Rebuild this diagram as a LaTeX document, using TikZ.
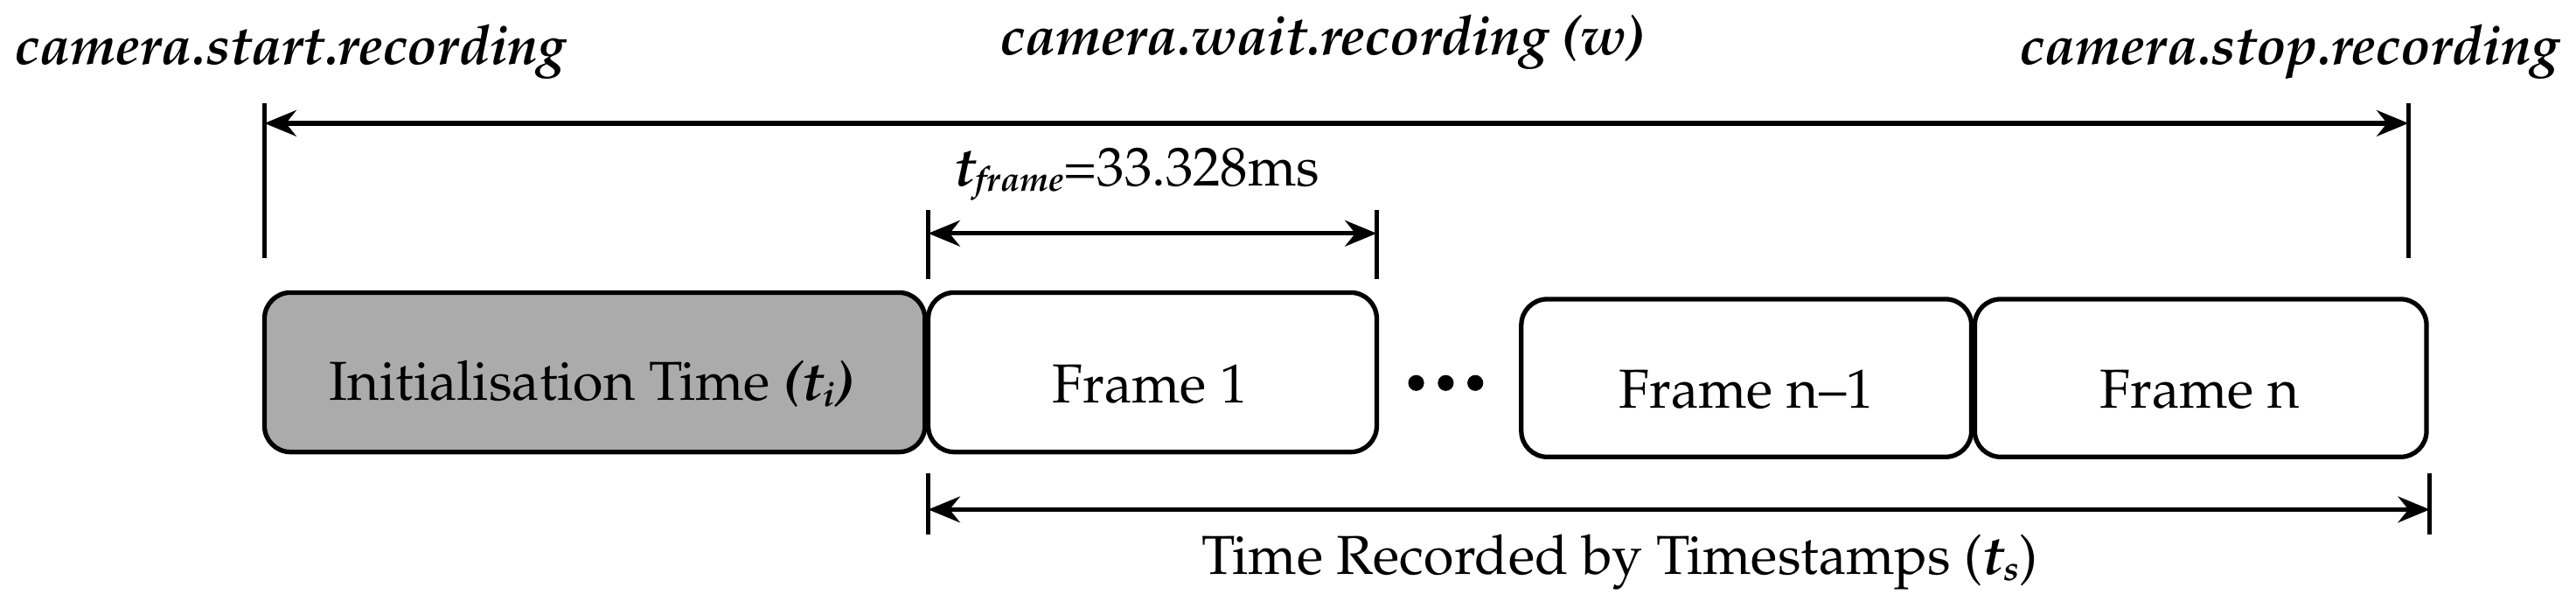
\documentclass[tikz,border=0pt]{standalone}
\usepackage[T1]{fontenc}
\usepackage{mathpazo}
\usetikzlibrary{arrows.meta}
\newcommand{\mysub}[1]{\raisebox{-2pt}{\fontsize{12}{14}\selectfont #1}}
\begin{document}
\begin{tikzpicture}[x=0.02cm,y=-0.02cm,
  box/.style={draw,line width=1.6pt,rounded corners=9pt,inner sep=0pt},
  dim/.style={line width=1.6pt,{Stealth[length=11pt,width=9pt]}-{Stealth[length=11pt,width=9pt]}},
  tick/.style={line width=1.6pt},
  dot/.style={circle,fill,inner sep=0pt,minimum size=5.5pt},
  lab/.style={font=\fontsize{19}{22}\selectfont\bfseries\itshape,inner sep=0pt},
  txt/.style={font=\fontsize{19}{22}\selectfont,inner sep=0pt}]
\useasboundingbox (0,0) rectangle (1568,374);
% boxes
\draw[box,fill=black!33] (161,178) rectangle (563,275);
\node[txt] (tinit) at (360,234) {Initialisation Time \textbf{\textit{(t\mysub{i})}}};
\draw[box] (565,178) rectangle (838,275);
\node[txt] (f1) at (700,234) {Frame 1};
\node[dot] (d1) at (862,233) {};
\node[dot] (d2) at (880,233) {};
\node[dot] (d3) at (898,233) {};
\draw[box] (926,182) rectangle (1200,278);
\node[txt] (fn1) at (1063,237) {Frame n--1};
\draw[box] (1202,182) rectangle (1477,278);
\node[txt] (fn) at (1339,237) {Frame n};
% top
\coordinate (L1) at (161,63); \coordinate (L2) at (161,157);
\coordinate (R1) at (1466,63); \coordinate (R2) at (1466,157);
\draw[tick] (L1)--(L2); \draw[tick] (R1)--(R2);
\coordinate (TA) at (161,75); \coordinate (TB) at (1466,75);
\draw[dim] (TA)--(TB);
\node[lab,anchor=west] (s) at (9,32) {camera.start.recording};
\node[lab] (w) at (805,26) {camera.wait.recording (w)};
\node[lab,anchor=east] (e) at (1558,32) {camera.stop.recording};
% tframe
\coordinate (F1a) at (565,128); \coordinate (F1b) at (565,170);
\coordinate (F2a) at (838,128); \coordinate (F2b) at (838,170);
\draw[tick] (F1a)--(F1b); \draw[tick] (F2a)--(F2b);
\coordinate (FA) at (565,142); \coordinate (FB) at (838,142);
\draw[dim] (FA)--(FB);
\node[txt] (tf) at (692,106) {\textbf{\textit{t\mysub{frame}}}=33.328ms};
% bottom
\coordinate (B1a) at (565,288); \coordinate (B1b) at (565,325);
\coordinate (B2a) at (1479,288); \coordinate (B2b) at (1479,325);
\draw[tick] (B1a)--(B1b); \draw[tick] (B2a)--(B2b);
\coordinate (BA) at (565,310); \coordinate (BB) at (1479,310);
\draw[dim] (BA)--(BB);
\node[txt] (ts) at (986,342) {Time Recorded by Timestamps (\textbf{\textit{t\mysub{s}}})};
\end{tikzpicture}
\end{document}
